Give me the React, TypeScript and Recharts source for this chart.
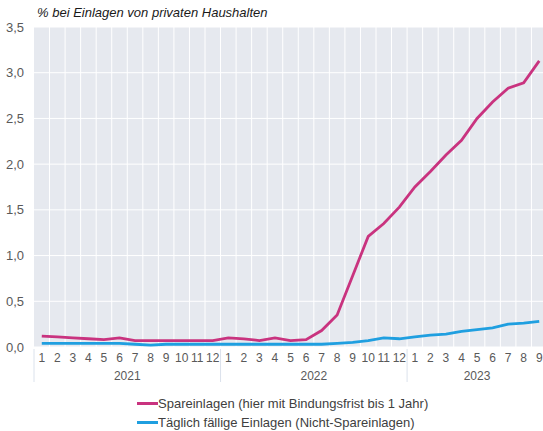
import React from "react";
import {
  LineChart,
  Line,
  XAxis,
  YAxis,
  CartesianGrid,
  Legend,
} from "recharts";

const years = ["2021", "2022", "2023"];
const monthsPerYear = [12, 12, 9];

// Zinssätze in %
const spareinlagen = [
  0.12, 0.11, 0.1, 0.09, 0.08, 0.1, 0.07, 0.07, 0.07, 0.07, 0.07, 0.07,
  0.1, 0.09, 0.07, 0.1, 0.07, 0.08, 0.18, 0.35, 0.78, 1.21, 1.35, 1.53,
  1.75, 1.92, 2.1, 2.26, 2.5, 2.68, 2.83, 2.89, 3.13,
];
const taeglichFaellig = [
  0.04, 0.04, 0.04, 0.04, 0.04, 0.04, 0.03, 0.02, 0.03, 0.03, 0.03, 0.03,
  0.03, 0.03, 0.03, 0.03, 0.03, 0.03, 0.03, 0.04, 0.05, 0.07, 0.1, 0.09,
  0.11, 0.13, 0.14, 0.17, 0.19, 0.21, 0.25, 0.26, 0.28,
];
const yTicks = [0, 0.5, 1, 1.5, 2, 2.5, 3, 3.5];

const seriesNames = {
  spar: "Spareinlagen (hier mit Bindungsfrist bis 1 Jahr)",
  tgl: "Täglich fällige Einlagen (Nicht-Spareinlagen)",
};

const MAGENTA = "#c9337f";
const BLUE = "#1f9fe0";
const FONT = "'Liberation Sans', Arial, sans-serif";

const data: { month: string; year: string; first: boolean; count: number; spar: number; tgl: number }[] = [];
years.forEach((y, yi) => {
  for (let m = 1; m <= monthsPerYear[yi]; m++) {
    const i = data.length;
    data.push({
      month: String(m),
      year: y,
      first: m === 1,
      count: monthsPerYear[yi],
      spar: spareinlagen[i],
      tgl: taeglichFaellig[i],
    });
  }
});

const CHART_W = 547;
const LEFT = 34;
const BAND = (CHART_W - LEFT) / data.length;

const MonthTick = (props: any) => {
  const { x, y, payload, index } = props;
  const d = data[index ?? payload.index];
  const left = x - BAND / 2;
  return (
    <g>
      <text x={x} y={y + 7} textAnchor="middle" fontSize={12} fill="#595959" fontFamily={FONT}>
        {payload.value}
      </text>
      {d && d.first && (
        <>
          <line x1={left} x2={left} y1={y - 6} y2={y + 27} stroke="#dbe2ec" strokeWidth={1} />
          <text
            x={left + (d.count * BAND) / 2}
            y={y + 25}
            textAnchor="middle"
            fontSize={12}
            fill="#595959"
            fontFamily={FONT}
          >
            {d.year}
          </text>
        </>
      )}
    </g>
  );
};

const LegendContent = () => (
  <div style={{ fontFamily: FONT, fontSize: 13, color: "#404040", lineHeight: "19px" }}>
    {[
      { name: seriesNames.spar, color: MAGENTA },
      { name: seriesNames.tgl, color: BLUE },
    ].map((e) => (
      <div key={e.name} style={{ display: "flex", alignItems: "center" }}>
        <span style={{ display: "inline-block", width: 21, height: 3, background: e.color }} />
        <span>{e.name}</span>
      </div>
    ))}
  </div>
);

export default function App() {
  return (
    <div
      style={{
        position: "absolute",
        left: 0,
        top: 0,
        width: 543,
        height: 431,
        overflow: "hidden",
        background: "#fff",
      }}
    >
      <div
        style={{
          position: "absolute",
          left: 37,
          top: 5,
          fontFamily: FONT,
          fontStyle: "italic",
          fontSize: 13,
          color: "#1a1a1a",
        }}
      >
        % bei Einlagen von privaten Haushalten
      </div>
      <LineChart
        width={CHART_W}
        height={431}
        data={data}
        margin={{ top: 27, right: 0, bottom: 44, left: 0 }}
      >
        <CartesianGrid
          fill="#e6e9ef"
          stroke="#ffffff"
          strokeWidth={1}
          verticalCoordinatesGenerator={({ offset }: any) =>
            data.map((_, i) => offset.left + (i * offset.width) / data.length).slice(1)
          }
        />
        <XAxis
          dataKey="month"
          interval={0}
          axisLine={false}
          tickLine={false}
          height={40}
          padding={{ left: BAND / 2, right: BAND / 2 }}
          tick={<MonthTick />}
        />
        <YAxis
          width={LEFT}
          domain={[0, 3.5]}
          ticks={yTicks}
          axisLine={false}
          tickLine={false}
          tickMargin={4}
          tick={{ fontSize: 13, fill: "#595959", fontFamily: FONT }}
          tickFormatter={(v: number) => v.toFixed(1).replace(".", ",")}
        />
        <Line
          dataKey="spar"
          name={seriesNames.spar}
          stroke={MAGENTA}
          strokeWidth={2.8}
          dot={false}
          isAnimationActive={false}
        />
        <Line
          dataKey="tgl"
          name={seriesNames.tgl}
          stroke={BLUE}
          strokeWidth={2.8}
          dot={false}
          isAnimationActive={false}
        />
        <Legend
          layout="horizontal"
          verticalAlign="middle"
          align="center"
          wrapperStyle={{ top: 394, left: 137, width: "auto" }}
          content={<LegendContent />}
        />
      </LineChart>
    </div>
  );
}
